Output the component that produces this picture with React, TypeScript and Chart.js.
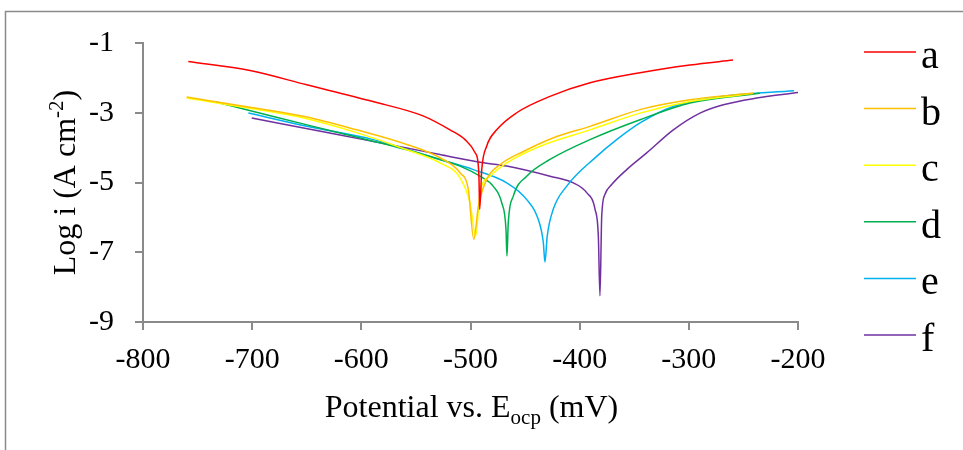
import React, { useEffect, useRef } from 'react';
import { Chart, registerables } from 'chart.js';

Chart.register(...registerables);

const FONT = '"Liberation Serif", "Times New Roman", Times, serif';

// Series labels and colours
const seriesNames = ['a', 'b', 'c', 'd', 'e', 'f'];
const seriesColors = ['#FF0000', '#FFC000', '#FFFF00', '#00B050', '#00B0F0', '#7030A0'];

// Axis ticks
const xMin = -800, xMax = -200, xStep = 100;
const yMin = -9, yMax = -1, yStep = 2;

// Titles
const xTitleMain = 'Potential vs. E';
const xTitleSub = 'ocp';
const xTitleEnd = ' (mV)';
const yTitleMain = 'Log i (A cm';
const yTitleSup = '-2';
const yTitleEnd = ')';

// a
const aPotential = [-758.5, -702, -650, -589.3, -543.5, -518.8, -505, -495.9, -493.1, -492.2, -491.6, -489.7, -485.2, -476, -457.7, -427.2, -390.5, -344.7, -299, -259.5];
const aLogI = [-1.53, -1.79, -2.2, -2.68, -3.09, -3.49, -3.77, -4.14, -4.43, -4.91, -5.77, -4.63, -3.96, -3.49, -3.0, -2.53, -2.14, -1.85, -1.63, -1.49];
// b
const bPotential = [-760, -702, -650, -604.3, -558.4, -528, -509.6, -502, -497, -492.8, -485.2, -473, -451.6, -421, -390.5, -344.7, -299, -253.1, -241];
const bLogI = [-2.55, -2.84, -3.12, -3.49, -3.91, -4.29, -4.72, -5.2, -6.63, -5.68, -4.91, -4.49, -4.11, -3.68, -3.39, -2.91, -2.63, -2.47, -2.44];
// c
const cPotential = [-760, -702, -650, -604.3, -558.4, -528, -509.6, -500.5, -495.2, -491.3, -482.1, -466.8, -436.3, -390.5, -344.7, -299, -253.1, -241.2];
const cLogI = [-2.58, -2.87, -3.17, -3.57, -4.06, -4.44, -4.87, -5.58, -6.53, -5.29, -4.82, -4.44, -3.96, -3.49, -3.01, -2.68, -2.49, -2.44];
// d
const dPotential = [-735, -680.6, -619.5, -558.4, -528, -509.6, -491.3, -479.1, -471.4, -467.5, -466.6, -465.4, -460.8, -448.5, -427.2, -390.5, -344.7, -299, -234.9];
const dLogI = [-2.68, -3.11, -3.58, -4.06, -4.34, -4.53, -4.82, -5.11, -5.58, -6.34, -7.11, -6.15, -5.39, -4.82, -4.34, -3.77, -3.2, -2.72, -2.44];
// e
const ePotential = [-703.5, -650, -589, -528, -497.4, -466.8, -448.5, -437.9, -433.3, -431.8, -429.7, -424.2, -412, -384.4, -366.1, -344.7, -314.2, -268.4, -203.7];
const eLogI = [-3.01, -3.39, -3.77, -4.34, -4.63, -5.01, -5.49, -6.06, -6.72, -7.28, -6.53, -5.77, -5.11, -4.25, -3.77, -3.29, -2.82, -2.53, -2.37];
// f
const fPotential = [-700.4, -619.5, -558.4, -528, -491.3, -466.8, -427.2, -405.8, -393.6, -385.9, -382.9, -381.4, -379.8, -376.8, -370.7, -356.9, -338.6, -314.2, -289.8, -268.4, -237.9, -199.7];
const fLogI = [-3.15, -3.64, -4.01, -4.2, -4.42, -4.53, -4.82, -5.01, -5.29, -5.77, -6.53, -8.25, -5.96, -5.34, -5.06, -4.63, -4.15, -3.49, -3.01, -2.77, -2.58, -2.42];

const allPotentials = [aPotential, bPotential, cPotential, dPotential, ePotential, fPotential];
const allLogI = [aLogI, bLogI, cLogI, dLogI, eLogI, fLogI];

const GRAY = '#8a8a8a';

const decorPlugin = {
  id: 'decor',
  afterDraw(chart: any) {
    const ctx = chart.ctx as CanvasRenderingContext2D;
    const area = chart.chartArea;
    ctx.save();
    // outer frame
    ctx.strokeStyle = GRAY;
    ctx.lineWidth = 1.5;
    ctx.beginPath();
    ctx.moveTo(5.5, chart.height);
    ctx.lineTo(5.5, 11.5);
    ctx.lineTo(chart.width, 11.5);
    ctx.stroke();

    ctx.fillStyle = '#000';
    ctx.textBaseline = 'alphabetic';
    ctx.textAlign = 'left';

    // x title
    const mainF = `32px ${FONT}`;
    const subF = `21px ${FONT}`;
    ctx.font = mainF;
    const w1 = ctx.measureText(xTitleMain).width;
    const w3 = ctx.measureText(xTitleEnd).width;
    ctx.font = subF;
    const w2 = ctx.measureText(xTitleSub).width;
    const cx = (area.left + area.right) / 2 + 1;
    const by = 417;
    const sx = cx - (w1 + w2 + w3) / 2;
    ctx.font = mainF;
    ctx.fillText(xTitleMain, sx, by);
    ctx.font = subF;
    ctx.fillText(xTitleSub, sx + w1, by + 7);
    ctx.font = mainF;
    ctx.fillText(xTitleEnd, sx + w1 + w2, by);

    // y title
    ctx.save();
    ctx.translate(75, (area.top + area.bottom) / 2);
    ctx.rotate(-Math.PI / 2);
    ctx.font = mainF;
    const v1 = ctx.measureText(yTitleMain).width;
    const v3 = ctx.measureText(yTitleEnd).width;
    ctx.font = subF;
    const v2 = ctx.measureText(yTitleSup).width;
    const sy = -(v1 + v2 + v3) / 2;
    ctx.font = mainF;
    ctx.fillText(yTitleMain, sy, 0);
    ctx.font = subF;
    ctx.fillText(yTitleSup, sy + v1, -12);
    ctx.font = mainF;
    ctx.fillText(yTitleEnd, sy + v1 + v2, 0);
    ctx.restore();

    // legend
    chart.data.datasets.forEach((ds: any, i: number) => {
      const y = 52 + i * 56.6;
      ctx.strokeStyle = ds.borderColor;
      ctx.lineWidth = 1.5;
      ctx.beginPath();
      ctx.moveTo(864, y);
      ctx.lineTo(916, y);
      ctx.stroke();
      ctx.fillStyle = '#000';
      ctx.font = `40px ${FONT}`;
      ctx.fillText(ds.label, 921, y + 16);
    });
    ctx.restore();
  },
};

export default function App() {
  const ref = useRef<HTMLCanvasElement>(null);
  useEffect(() => {
    if (!ref.current) return;
    const datasets = seriesNames.map((name, i) => ({
      label: name,
      data: allPotentials[i].map((x, j) => ({ x, y: allLogI[i][j] })),
      borderColor: seriesColors[i],
      backgroundColor: seriesColors[i],
      borderWidth: 1.5,
      pointRadius: 0,
      showLine: true,
      fill: false,
      cubicInterpolationMode: 'monotone' as const,
    }));
    const chart = new Chart(ref.current, {
      type: 'scatter',
      data: { datasets },
      options: {
        responsive: false,
        animation: false,
        devicePixelRatio: 1,
        layout: { padding: { left: 0, top: 43, right: 165, bottom: 0 } },
        plugins: { legend: { display: false }, tooltip: { enabled: false } },
        scales: {
          x: {
            type: 'linear',
            min: xMin,
            max: xMax,
            ticks: {
              stepSize: xStep,
              color: '#000',
              font: { family: FONT, size: 30 },
              padding: 12,
              maxRotation: 0,
              autoSkip: false,
            },
            grid: { drawOnChartArea: false, drawTicks: true, tickLength: 8, color: GRAY, lineWidth: 2 },
            border: { display: true, color: GRAY, width: 2 },
            afterFit: (s: any) => { s.height = 128; },
          },
          y: {
            type: 'linear',
            min: yMin,
            max: yMax,
            ticks: {
              stepSize: yStep,
              color: '#000',
              font: { family: FONT, size: 30 },
              padding: 21,
              autoSkip: false,
            },
            grid: { drawOnChartArea: false, drawTicks: true, tickLength: 8, color: GRAY, lineWidth: 2 },
            border: { display: true, color: GRAY, width: 2 },
            afterFit: (s: any) => { s.width = 143; },
          },
        },
      },
      plugins: [decorPlugin],
    });
    return () => chart.destroy();
  }, []);
  return (
    <div style={{ position: 'fixed', left: 0, top: 0, width: 963, height: 450, background: '#fff' }}>
      <canvas ref={ref} width={963} height={450} style={{ width: 963, height: 450, display: 'block' }} />
    </div>
  );
}
